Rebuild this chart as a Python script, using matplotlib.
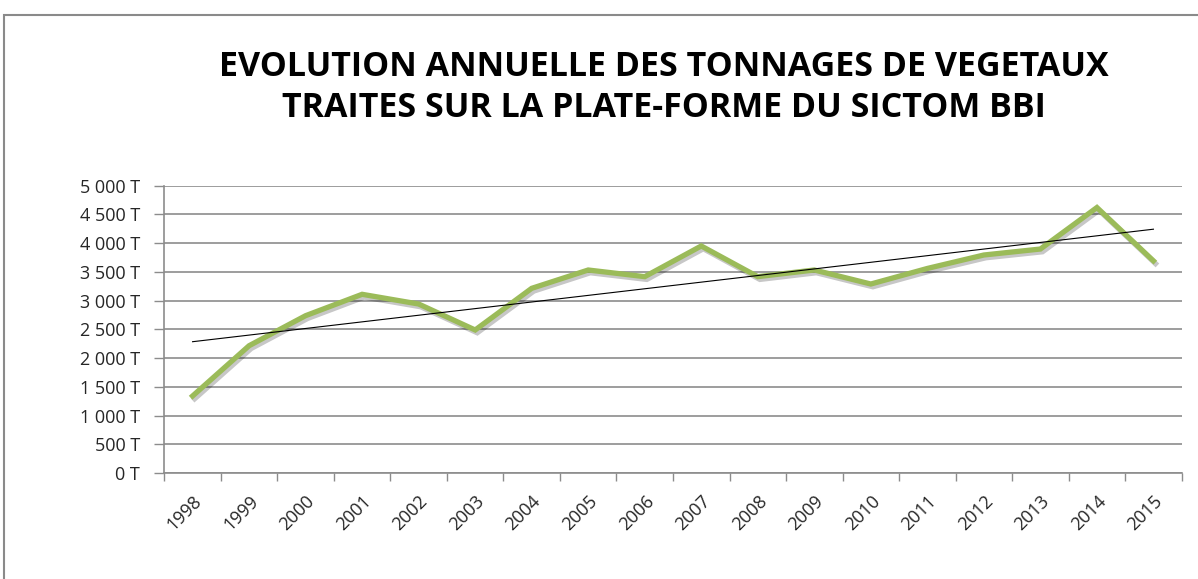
import numpy as np
import matplotlib
matplotlib.use("Agg")
import matplotlib.pyplot as plt
import matplotlib.patheffects as pe
from matplotlib.patches import Rectangle
from matplotlib.ticker import FixedLocator, FuncFormatter

# data
years = ["1998", "1999", "2000", "2001", "2002", "2003", "2004", "2005", "2006",
         "2007", "2008", "2009", "2010", "2011", "2012", "2013", "2014", "2015"]
tonnages = [1340, 2215, 2738, 3110, 2941, 2489, 3214, 3533, 3417,
            3951, 3417, 3533, 3289, 3560, 3794, 3898, 4620, 3692]
yticks = [0, 500, 1000, 1500, 2000, 2500, 3000, 3500, 4000, 4500, 5000]
title_lines = ["EVOLUTION ANNUELLE DES TONNAGES DE VEGETAUX",
               "TRAITES SUR LA PLATE-FORME DU SICTOM BBI"]

W, H = 1198, 579
fig = plt.figure(figsize=(W / 100, H / 100), dpi=100)
fig.patch.set_facecolor("white")

# outer chart frame (only top and left visible)
fig.add_artist(Rectangle((4 / W, -0.2), 1.5, 1.2 - 15 / H,
                         transform=fig.transFigure, fill=False,
                         edgecolor="#8a8a8a", linewidth=1.5))

ax = fig.add_axes([164.3 / W, 1 - 473 / H, (1181.7 - 164.3) / W, (473 - 185.7) / H])

x = np.arange(len(years))
# trend line (linear regression, like Excel)
coef = np.polyfit(x, tonnages, 1)
ax.plot(x, np.polyval(coef, x), color="black", lw=0.8, zorder=4)

ax.plot(x, tonnages, color="#9BBB59", lw=3.8, solid_joinstyle="miter", zorder=3,
        path_effects=[pe.SimpleLineShadow(offset=(1.5, -2.0), shadow_color="black", alpha=0.22),
                      pe.Normal()])

ax.set_xlim(-0.5, len(years) - 0.5)
ax.set_ylim(0, 5000)

ax.set_yticks(yticks)
ax.yaxis.set_major_formatter(FuncFormatter(lambda v, p: f"{int(v):,} T".replace(",", " ")))
ax.grid(axis="y", color="#8c8c8c", lw=1.2)
ax.set_axisbelow(True)

ax.xaxis.set_major_locator(FixedLocator(x))
ax.set_xticklabels(years)
ax.xaxis.set_minor_locator(FixedLocator(np.arange(len(years) + 1) - 0.5))
ax.tick_params(axis="x", which="major", length=0, pad=14)
ax.tick_params(axis="x", which="minor", length=6, width=1, color="#8c8c8c", direction="out")
ax.tick_params(axis="y", length=7.5, width=1, color="#8c8c8c", pad=10)

for lab in ax.get_xticklabels():
    lab.set_rotation(45)
    lab.set_ha("right")
    lab.set_va("top")
    lab.set_rotation_mode("anchor")
    lab.set_fontsize(13)
    lab.set_color("#262626")
    lab.set_fontfamily("Open Sans")
for lab in ax.get_yticklabels():
    lab.set_fontsize(13)
    lab.set_color("#262626")
    lab.set_fontfamily("Open Sans")

for side in ["top", "right"]:
    ax.spines[side].set_visible(False)
for side in ["left", "bottom"]:
    ax.spines[side].set_color("#8c8c8c")
    ax.spines[side].set_linewidth(1.2)

for line, base in zip(title_lines, [76, 117]):
    fig.text(664 / W, 1 - base / H, line, ha="center", va="baseline", fontsize=24.5,
             fontweight="bold", family="Open Sans", color="black")

fig.savefig("out.png", dpi=100)
